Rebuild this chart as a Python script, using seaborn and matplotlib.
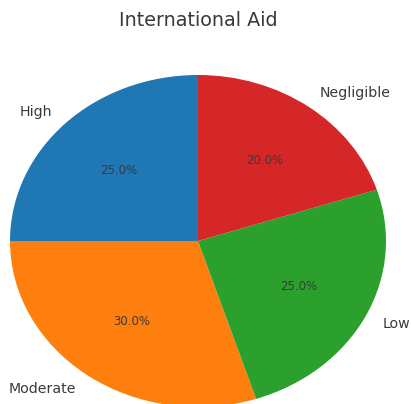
import matplotlib
matplotlib.use("Agg")
import matplotlib.pyplot as plt
import seaborn as sns

categories = ["High", "Moderate", "Low", "Negligible"]
shares = [25.0, 30.0, 25.0, 20.0]

sns.set_theme(style="white")
plt.rcParams["font.family"] = ["DejaVu Sans"]
text_color = "#3a3a3a"

colors = sns.color_palette("tab10", 4)

fig = plt.figure(figsize=(4.11, 4.04), dpi=100)
# Axes stretched so the pie renders as a wide ellipse
ax = fig.add_axes([10 / 411, -3 / 404, 376 / 411, 332 / 404])
wedges, texts, autotexts = ax.pie(
    shares,
    labels=categories,
    colors=colors,
    startangle=90,
    autopct="%1.1f%%",
    pctdistance=0.6,
    labeldistance=1.1,
    wedgeprops={"linewidth": 0},
    textprops={"color": text_color, "fontsize": 10.2},
)
for t in autotexts:
    t.set_fontsize(8.5)
ax.set_aspect("auto")
ax.set_xlim(-1, 1)
ax.set_ylim(-1, 1)
ax.axis("off")
for t in texts + autotexts:
    t.set_clip_on(False)

fig.text(198 / 411, 1 - 20 / 404, "International Aid", ha="center", va="center",
         fontsize=13.8, color=text_color)

fig.savefig("out.png", dpi=100)
